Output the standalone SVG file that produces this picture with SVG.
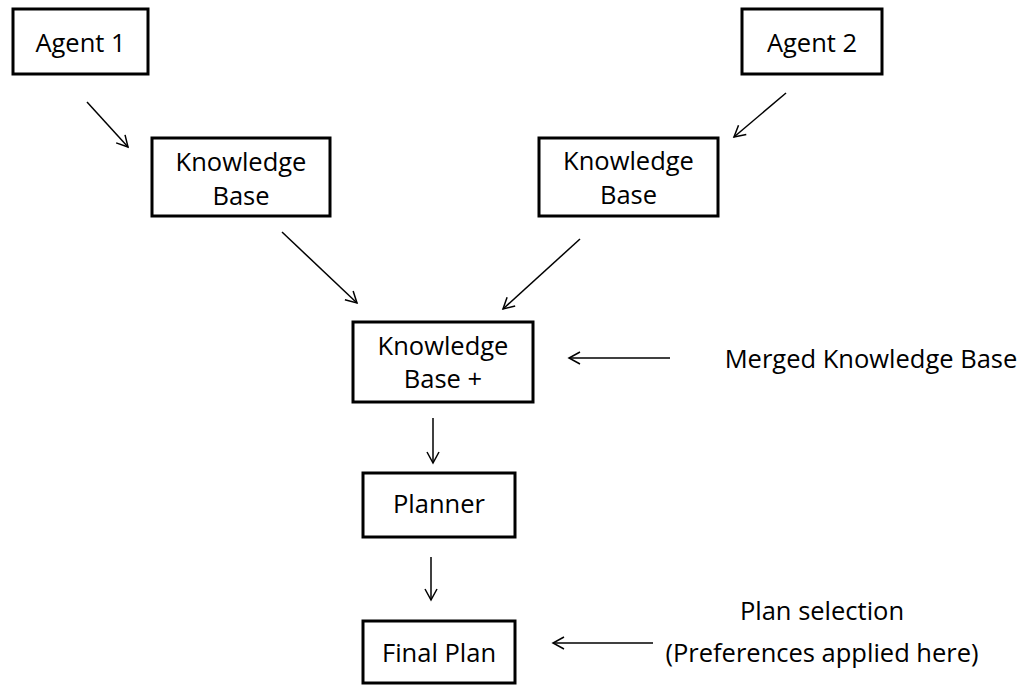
<svg xmlns="http://www.w3.org/2000/svg" width="1028" height="685" viewBox="0 0 1028 685">
  <style>
    .box { fill: #ffffff; stroke: #000000; stroke-width: 3; }
    .lbl { font-family: "Open Sans", "Liberation Sans", sans-serif; font-size: 25.5px; fill: #000000; text-anchor: middle; }
    .conn { stroke: #000000; stroke-width: 1.5; fill: none; marker-end: url(#open-arrow); }
  </style>
  <defs>
    <marker id="open-arrow" markerUnits="userSpaceOnUse" markerWidth="16" markerHeight="16" viewBox="-12 -8 14 16" refX="0" refY="0" orient="auto">
      <path d="M -11 -6 L 0 0 L -11 6" fill="none" stroke="#000000" stroke-width="1.5"/>
    </marker>
  </defs>

  <rect width="1028" height="685" fill="#ffffff"/>

  <g id="agent1">
    <rect class="box" x="13" y="9" width="135" height="65"/>
    <text class="lbl" x="80.5" y="52">Agent 1</text>
  </g>

  <g id="agent2">
    <rect class="box" x="742" y="9" width="140" height="65"/>
    <text class="lbl" x="812" y="52">Agent 2</text>
  </g>

  <g id="kb1">
    <rect class="box" x="152" y="138" width="178" height="78"/>
    <text class="lbl" x="241" y="171">Knowledge</text>
    <text class="lbl" x="241" y="205">Base</text>
  </g>

  <g id="kb2">
    <rect class="box" x="539" y="138" width="179" height="78"/>
    <text class="lbl" x="628.5" y="170">Knowledge</text>
    <text class="lbl" x="628.5" y="204">Base</text>
  </g>

  <g id="kb-merged">
    <rect class="box" x="353" y="322" width="180" height="80"/>
    <text class="lbl" x="443" y="355">Knowledge</text>
    <text class="lbl" x="443" y="388">Base +</text>
  </g>

  <g id="planner">
    <rect class="box" x="363" y="473" width="152" height="64"/>
    <text class="lbl" x="439" y="513">Planner</text>
  </g>

  <g id="final-plan">
    <rect class="box" x="363" y="621" width="152" height="62"/>
    <text class="lbl" x="439" y="662">Final Plan</text>
  </g>

  <g id="note-merged">
    <text class="lbl" x="871" y="368">Merged Knowledge Base</text>
  </g>

  <g id="note-selection">
    <text class="lbl" x="822" y="620">Plan selection</text>
    <text class="lbl" x="822" y="662">(Preferences applied here)</text>
  </g>

  <g id="connectors">
    <line class="conn" x1="87" y1="102" x2="128" y2="147"/>
    <line class="conn" x1="786" y1="93" x2="734" y2="137"/>
    <line class="conn" x1="282" y1="232" x2="357" y2="303"/>
    <line class="conn" x1="580" y1="239" x2="503" y2="309"/>
    <line class="conn" x1="670" y1="358" x2="569" y2="358"/>
    <line class="conn" x1="433" y1="418" x2="433" y2="463"/>
    <line class="conn" x1="431" y1="557" x2="431" y2="600"/>
    <line class="conn" x1="653" y1="643" x2="553" y2="643"/>
  </g>
</svg>
